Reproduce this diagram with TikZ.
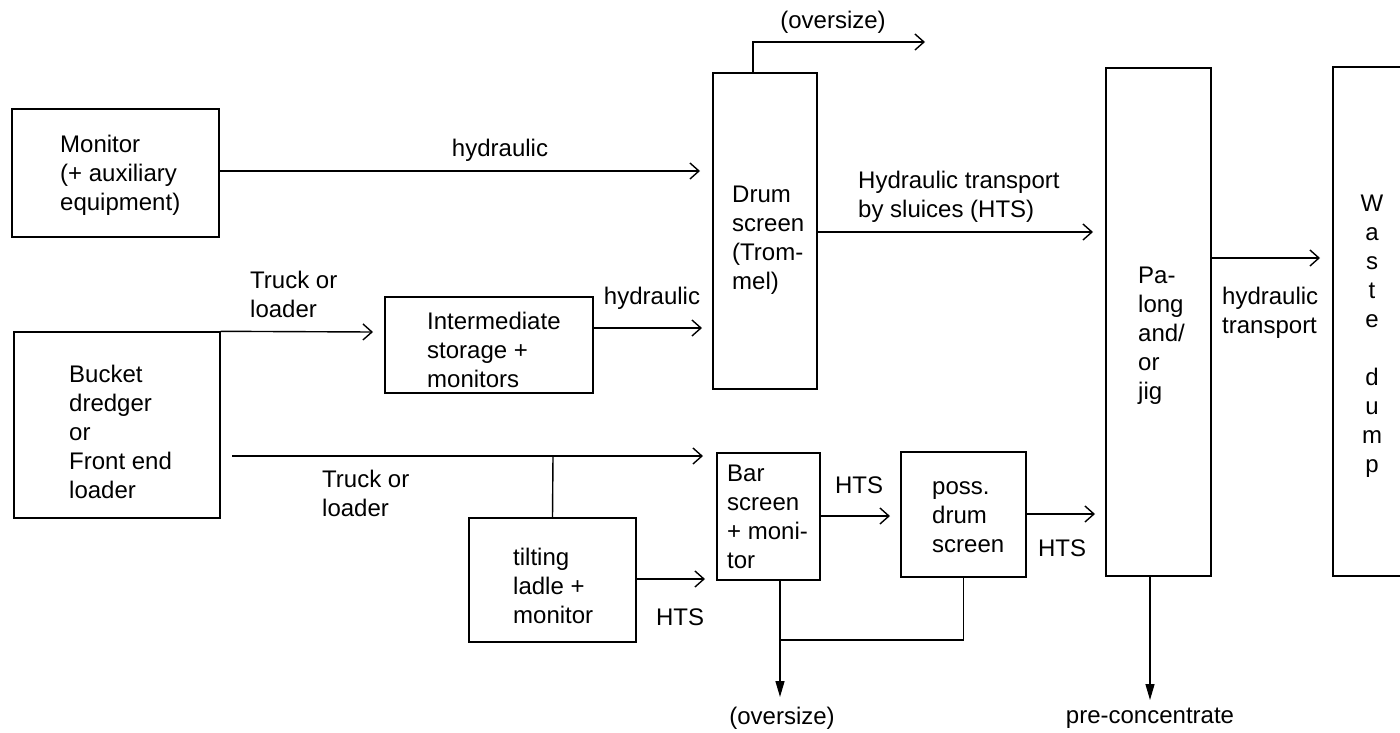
\documentclass[tikz,border=0pt]{standalone}
\usepackage{fontspec}
\setmainfont{Liberation Sans}
\usetikzlibrary{arrows.meta}
\begin{document}
\begin{tikzpicture}[x=1pt,y=-1pt,
  box/.style={draw, line width=1.4pt, inner sep=0pt},
  txt/.style={font=\fontsize{24}{29}\selectfont, align=left, inner sep=0pt},
  ln/.style={line width=1.4pt},
  arr/.style={ln, -{Straight Barb[length=9pt,width=16pt,line width=1.4pt]}},
  dn/.style={ln, -{Triangle[length=16pt,width=9pt]}}]
\useasboundingbox (0,0) rectangle (1400,732);

% boxes
\node[box, minimum width=207, minimum height=128] (monitor) at (115.5,173) {};
\node[box, minimum width=206, minimum height=186] (bucket) at (117,425) {};
\node[box, minimum width=208, minimum height=96] (inter) at (489,345) {};
\node[box, minimum width=104, minimum height=316] (drum) at (765,231) {};
\node[box, minimum width=167, minimum height=124] (tilt) at (552.5,580) {};
\node[box, minimum width=103, minimum height=127] (bar) at (768.5,516.5) {};
\node[box, minimum width=125, minimum height=125] (poss) at (963.5,514.5) {};
\node[box, minimum width=105, minimum height=508] (palong) at (1158.5,322) {};
\draw[ln] (1400,67) -- (1333,67) -- (1333,576) -- (1400,576);

% box texts
\node[txt, anchor=west] (montext) at (60,175) {Monitor\\(+ auxiliary\\equipment)};
\node[txt, anchor=west] (bucktext) at (69,432) {Bucket\\dredger\\or\\Front end\\loader};
\node[txt, anchor=west] (intertext) at (427,350) {Intermediate\\storage +\\monitors};
\node[txt, anchor=west] (drumtext) at (732,240) {Drum\\screen\\(Trom-\\mel)};
\node[txt, anchor=west] (tilttext) at (513,586) {tilting\\ladle +\\monitor};
\node[txt, anchor=west] (bartext) at (727,517) {Bar\\screen\\+ moni-\\tor};
\node[txt, anchor=west] (posstext) at (932,517) {poss.\\drum\\screen};
\node[txt, anchor=west] (palongtext) at (1138,336) {Pa-\\long\\and/\\or\\jig};
\node[txt, align=center] (wastetext) at (1372,336) {W\\a\\s\\t\\e\\[29pt]d\\u\\m\\p};

% connector end points
\coordinate (t1) at (700,171);
\coordinate (t2) at (925,42);
\coordinate (t3) at (1093,232);
\coordinate (t4) at (1320,258);
\coordinate (t5) at (373,332);
\coordinate (t6) at (702,328);
\coordinate (s7) at (232,456);
\coordinate (t7) at (703,456);
\coordinate (j7) at (553,456);
\coordinate (t9) at (705,579);
\coordinate (t10) at (890,516);
\coordinate (t11) at (1095,514);
\coordinate (t12) at (780,697);
\coordinate (j13) at (780,640);
\coordinate (t14) at (1150,700);

% connectors
\draw[arr] (monitor.east |- t1) -- (t1);
\draw[arr] ([xshift=-12pt]drum.north) |- (t2);
\draw[arr] (drum.east |- t3) -- (t3);
\draw[arr] (palong.east |- t4) -- (t4);
\draw[arr] (bucket.north east) -- (t5);
\draw[arr] (inter.east |- t6) -- (t6);
\draw[arr] (s7) -- (t7);
\draw[ln] (j7) -- (tilt.north);
\draw[arr] (tilt.east |- t9) -- (t9);
\draw[arr] (bar.east |- t10) -- (t10);
\draw[arr] (poss.east |- t11) -- (t11);
\draw[dn] ([xshift=11.5pt]bar.south) -- (t12);
\draw[ln] (poss.south) |- (j13);
\draw[dn] (palong.south -| t14) -- (t14);

% labels
\node[txt] (lhyd1) at (500,150) {hydraulic};
\node[txt] (lover1) at (833,22) {(oversize)};
\node[txt, anchor=west] (lhts) at (858,197) {Hydraulic transport\\by sluices (HTS)};
\node[txt, anchor=west] (lhydtr) at (1222,313) {hydraulic\\transport};
\node[txt, anchor=west] (ltruck1) at (250,294) {Truck or\\loader};
\node[txt] (lhyd2) at (652,298) {hydraulic};
\node[txt, anchor=west] (ltruck2) at (322,493) {Truck or\\loader};
\node[txt] (lhts1) at (680,617) {HTS};
\node[txt] (lhts2) at (859,485) {HTS};
\node[txt] (lhts3) at (1062,548) {HTS};
\node[txt] (lover2) at (782,718) {(oversize)};
\node[txt] (lpre) at (1150,718) {pre-concentrate};
\end{tikzpicture}
\end{document}
